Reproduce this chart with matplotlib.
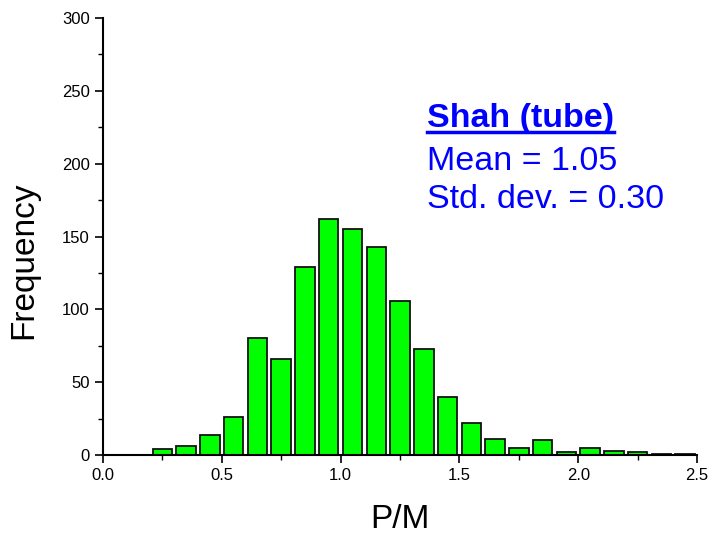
import matplotlib.pyplot as plt
import numpy as np
from matplotlib.ticker import MultipleLocator

plt.rcParams['font.family'] = ['Liberation Sans', 'DejaVu Sans']

# P/M histogram, bins of width 0.1 starting at 0.2
bin_centers = np.round(np.arange(0.25, 2.5, 0.1), 2)
counts = [4, 6, 14, 26, 80, 66, 129, 162, 155, 143, 106, 73,
          40, 22, 11, 5, 10, 2, 5, 3, 2, 1, 1]
title = "Shah (tube)"
mean_val = 1.05
std_val = 0.30

fig = plt.figure(figsize=(7.12, 5.39), dpi=100)
ax = fig.add_axes([0.1447, 0.1558, 0.8343, 0.8108])

ax.bar(bin_centers, counts, width=0.082, color='#00ff00',
       edgecolor='#111111', linewidth=1.3)

ax.set_xlim(0, 2.5)
ax.set_ylim(0, 300)
ax.xaxis.set_major_locator(MultipleLocator(0.5))
ax.xaxis.set_minor_locator(MultipleLocator(0.25))
ax.yaxis.set_major_locator(MultipleLocator(50))
ax.yaxis.set_minor_locator(MultipleLocator(25))
ax.xaxis.set_major_formatter(plt.FormatStrFormatter('%.1f'))
ax.tick_params(which='major', direction='out', length=6, width=1.2, labelsize=12)
ax.tick_params(which='minor', direction='out', length=3.5, width=1.0)
for side in ['top', 'right']:
    ax.spines[side].set_visible(False)
for side in ['left', 'bottom']:
    ax.spines[side].set_linewidth(1.5)

ax.set_xlabel('P/M', fontsize=24, labelpad=15)
ax.set_ylabel('Frequency', fontsize=24)
ax.yaxis.set_label_coords(-0.108, 0.446)

tx = 0.545
t = ax.text(tx, 0.750, title, transform=ax.transAxes, color='#0000ff',
            fontsize=24.5, fontweight='bold', va='baseline')
ax.text(tx, 0.652, f'Mean = {mean_val:.2f}', transform=ax.transAxes,
        color='#0000ff', fontsize=24.5, va='baseline')
ax.text(tx, 0.565, f'Std. dev. = {std_val:.2f}', transform=ax.transAxes,
        color='#0000ff', fontsize=24.5, va='baseline')

# underline the heading
fig.canvas.draw()
bb = t.get_window_extent().transformed(ax.transAxes.inverted())
uy = 0.750 - 0.01
ax.plot([bb.x0, bb.x1], [uy, uy], transform=ax.transAxes,
        color='#0000ff', linewidth=2.5, clip_on=False)

fig.savefig('out.png', dpi=100)
